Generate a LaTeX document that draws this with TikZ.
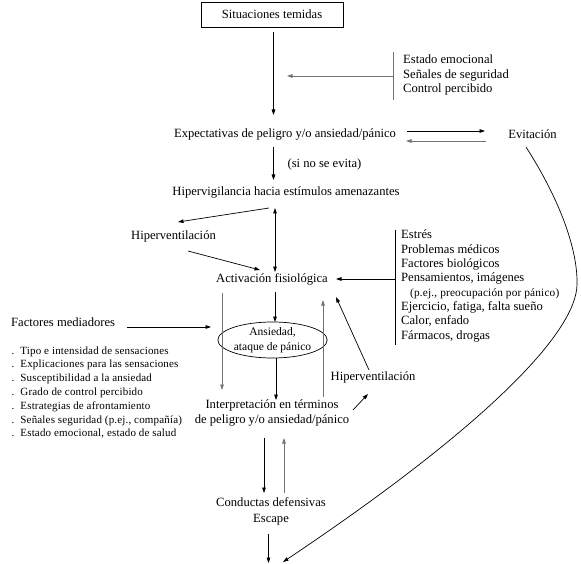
\documentclass[tikz,border=0pt]{standalone}
\usepackage{fontspec}
\setmainfont{Liberation Serif}
\newfontfamily\smallfnt[LetterSpace=1.5]{Liberation Serif}
\usetikzlibrary{arrows.meta,calc,shapes.geometric}
\begin{document}
\begin{tikzpicture}[x=1pt,y=-1pt,
  txt/.style={inner sep=0pt, font=\fontsize{12.6}{14.3}\selectfont},
  lst/.style={txt, align=left, anchor=west},
  ln/.style={line width=0.7pt},
  arr/.style={ln, -{Triangle[length=5.5pt,width=3.6pt]}},
  darr/.style={ln, {Triangle[length=5.5pt,width=3.6pt]}-{Triangle[length=5.5pt,width=3.6pt]}},
  garr/.style={arr, draw=black!55},
  gln/.style={ln, draw=black!55}]
\fill[white] (0,0) rectangle (581,564);
\useasboundingbox (0,0) rectangle (581,564);

% nodes
\node[draw, line width=0.8pt, minimum width=142pt, minimum height=25pt, txt] (sit) at (272,14.5) {Situaciones temidas};
\node[lst] (emo) at (403,75) {Estado emocional\\Señales de seguridad\\Control percibido};
\node[txt] (exp) at (285,134) {Expectativas de peligro y/o ansiedad/pánico};
\node[txt] (evi) at (532.5,134) {Evitación};
\node[txt] (sne) at (324.5,164) {(si no se evita)};
\node[txt] (hyp) at (286,192) {Hipervigilancia hacia estímulos amenazantes};
\node[txt] (hvl) at (173.5,236) {Hiperventilación};
\node[txt] (act) at (272,279) {Activación fisiológica};
\node[lst] (est) at (401,286) {Estrés\\Problemas médicos\\Factores biológicos\\Pensamientos, imágenes\\\hspace*{9pt}{\smallfnt\fontsize{11.3}{14.3}\selectfont(p.ej., preocupación por pánico)}\\Ejercicio, fatiga, falta sueño\\Calor, enfado\\Fármacos, drogas};
\node[lst] (fm) at (11,322) {Factores mediadores};
\node[lst, font=\smallfnt\fontsize{11}{13.8}\selectfont] (fml) at (11.5,392.5) {.\hspace{6pt}Tipo e intensidad de sensaciones\\.\hspace{6pt}Explicaciones para las sensaciones\\.\hspace{6pt}Susceptibilidad a la ansiedad\\.\hspace{6pt}Grado de control percibido\\.\hspace{6pt}Estrategias de afrontamiento\\.\hspace{6pt}Señales seguridad (p.ej., compañía)\\.\hspace{6pt}Estado emocional, estado de salud};
\node[draw, ellipse, ln, minimum width=89pt, minimum height=36pt, inner sep=0pt, align=center, font=\fontsize{11.5}{15}\selectfont] (ell) at (272.5,340) {Ansiedad,\\ataque de pánico};
\node[txt] (hvr) at (373,377) {Hiperventilación};
\node[txt, align=center] (int) at (272,413) {Interpretación en términos\\de peligro y/o ansiedad/pánico};
\node[txt, align=center] (con) at (271,511) {Conductas defensivas\\[1.7pt]Escape};
\coordinate (cend) at (283,562);
\coordinate (eend) at (268.5,563);

% connectors
\draw[arr] ($(sit)+(1.5,17.5)$) -- ($(exp)+(-11.5,-19)$);
\draw[gln] ($(emo.west)+(-10,-23)$) -- ($(emo.west)+(-10,25)$);
\draw[garr] ($(emo.west)+(-10,1)$) -- ($(exp)+(2,-58)$);
\draw[arr] ($(exp)+(122,-3)$) -- ($(evi)+(-47.5,-3)$);
\draw[garr] ($(evi)+(-46.5,7)$) -- ($(exp)+(121,7)$);
\draw[arr] ($(exp)+(-11.5,13)$) -- ($(hyp)+(-12.5,-12)$);
\draw[arr] ($(evi)+(-6.5,13)$) .. controls (560,200) and (578,250) .. (577,285)
   .. controls (576,330) and (495,420) .. (cend);
\draw[arr] ($(hyp)+(-17,16)$) -- ($(hvl)+(4.5,-14)$);
\draw[darr] ($(hyp)+(-11,16)$) -- ($(act)+(3,-7)$);
\draw[arr] ($(hvl)+(14.5,15)$) -- ($(act)+(-12,-9)$);
\draw[ln] ($(est.west)+(-6,-56)$) -- ($(est.west)+(-6,59)$);
\draw[arr] ($(est.west)+(-6,-7)$) -- ($(act)+(64,0)$);
\draw[arr] ($(act)+(3,13)$) -- ($(ell)+(2.5,-18)$);
\draw[garr] ($(act)+(-50,14)$) -- ($(int)+(-50,-23)$);
\draw[arr] ($(fm.west)+(116,5)$) -- ($(act)+(-61,48)$);
\draw[arr] ($(ell)+(3.5,18)$) -- ($(int)+(4,-13)$);
\draw[garr] ($(int)+(51,-16)$) -- ($(act)+(51,21)$);
\draw[arr] ($(hvr)+(-4,-7)$) -- ($(act)+(64,18)$);
\draw[arr] ($(int)+(81,-3)$) -- ($(hvr)+(-5,17)$);
\draw[arr] ($(int)+(-8,25)$) -- ($(con)+(-7,-18)$);
\draw[garr] ($(con)+(13,-18)$) -- ($(int)+(12,25)$);
\draw[arr] ($(con)+(-2.5,23)$) -- (eend);
\end{tikzpicture}
\end{document}
